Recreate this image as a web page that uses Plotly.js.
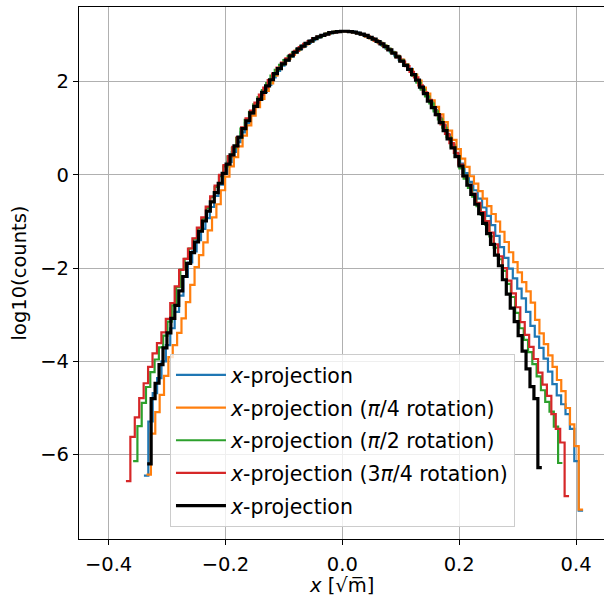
<!DOCTYPE html>
<html>
<head>
<meta charset="utf-8">
<script src="https://cdn.plot.ly/plotly-3.0.1.min.js"></script>
<style>html,body{margin:0;padding:0;background:#fff;}#chart{width:604px;height:598px;}</style>
</head>
<body>
<div id="chart"></div>
<script>
// Histogram bin ranges (100 bins each)
const nBins = 100;
const seriesNames = [
  "<i>x</i>-projection",
  "<i>x</i>-projection (<i>π</i>/4 rotation)",
  "<i>x</i>-projection (<i>π</i>/2 rotation)",
  "<i>x</i>-projection (3<i>π</i>/4 rotation)",
  "<i>x</i>-projection"
];
const xTitle = "<i>x</i> [√m̅]";
const yTitle = "log10(counts)";
const binLo = [-0.3395, -0.335, -0.358, -0.3703, -0.3339];
const binHi = [0.412, 0.412, 0.3766, 0.388, 0.3414];

// log10(counts) per bin
const blueVals = [
-6.45,-5.29,-4.68,-4.36,-4.00,-3.65,-3.29,-2.94,-2.59,-2.19,
-1.88,-1.64,-1.40,-1.16,-0.93,-0.69,-0.45,-0.21,0.02,0.28,
0.49,0.70,0.91,1.11,1.29,1.46,1.62,1.78,1.93,2.09,
2.23,2.34,2.45,2.54,2.63,2.70,2.77,2.83,2.89,2.94,
2.98,3.02,3.04,3.06,3.07,3.08,3.08,3.07,3.05,3.02,
2.99,2.95,2.90,2.85,2.78,2.71,2.64,2.56,2.47,2.37,
2.28,2.16,2.00,1.85,1.72,1.56,1.39,1.22,1.06,0.86,
0.65,0.45,0.24,0.04,-0.15,-0.33,-0.51,-0.70,-0.88,-1.08,
-1.31,-1.55,-1.78,-2.01,-2.22,-2.44,-2.65,-2.94,-3.24,-3.47,
-3.71,-3.94,-4.22,-4.49,-4.73,-4.92,-5.13,-5.45,-6.14,-7.20];

const orangeVals = [
-6.43,-5.55,-5.09,-4.72,-4.31,-3.91,-3.65,-3.39,-3.08,-2.73,
-2.36,-1.98,-1.72,-1.45,-1.19,-0.91,-0.63,-0.33,-0.04,0.18,
0.38,0.61,0.84,1.06,1.27,1.45,1.63,1.80,1.96,2.13,
2.27,2.39,2.49,2.58,2.66,2.74,2.80,2.86,2.92,2.96,
3.00,3.03,3.05,3.07,3.08,3.08,3.07,3.06,3.04,3.01,
2.97,2.93,2.88,2.83,2.77,2.70,2.63,2.55,2.47,2.37,
2.27,2.15,2.02,1.87,1.74,1.60,1.46,1.30,1.13,0.95,
0.75,0.55,0.35,0.17,-0.03,-0.19,-0.35,-0.51,-0.67,-0.84,
-1.00,-1.22,-1.44,-1.66,-1.87,-2.09,-2.30,-2.50,-2.74,-3.11,
-3.40,-3.63,-3.87,-4.12,-4.40,-4.64,-5.00,-5.35,-5.82,-7.18];

const greenVals = [
-6.14,-5.39,-4.89,-4.55,-4.23,-3.96,-3.70,-3.45,-3.15,-2.80,
-2.41,-2.03,-1.80,-1.58,-1.37,-1.15,-0.94,-0.71,-0.48,-0.26,
-0.03,0.18,0.39,0.58,0.79,0.99,1.18,1.35,1.51,1.67,
1.82,1.97,2.13,2.25,2.36,2.46,2.54,2.62,2.69,2.76,
2.82,2.87,2.92,2.96,3.00,3.03,3.05,3.07,3.08,3.08,
3.07,3.06,3.04,3.01,2.97,2.93,2.89,2.83,2.77,2.70,
2.62,2.54,2.45,2.36,2.25,2.13,1.98,1.83,1.68,1.53,
1.36,1.19,1.01,0.81,0.60,0.39,0.14,-0.08,-0.28,-0.47,
-0.67,-0.86,-1.07,-1.32,-1.56,-1.81,-2.06,-2.34,-2.62,-2.96,
-3.29,-3.54,-3.80,-4.06,-4.32,-4.62,-4.87,-5.08,-5.40,-6.18];

const redVals = [
-6.57,-5.62,-5.20,-4.79,-4.47,-4.12,-3.83,-3.61,-3.38,-3.09,
-2.75,-2.39,-2.04,-1.80,-1.58,-1.36,-1.13,-0.91,-0.68,-0.46,
-0.23,0.00,0.21,0.40,0.60,0.81,1.02,1.21,1.38,1.55,
1.72,1.87,2.03,2.17,2.30,2.41,2.50,2.58,2.66,2.74,
2.81,2.87,2.92,2.96,2.99,3.02,3.05,3.06,3.08,3.08,
3.07,3.06,3.04,3.01,2.97,2.93,2.88,2.82,2.76,2.68,
2.61,2.52,2.43,2.33,2.21,2.09,1.92,1.77,1.61,1.44,
1.28,1.08,0.88,0.68,0.47,0.22,-0.03,-0.22,-0.41,-0.60,
-0.80,-0.99,-1.24,-1.49,-1.75,-2.00,-2.27,-2.54,-2.84,-3.16,
-3.43,-3.69,-3.95,-4.24,-4.50,-4.74,-5.13,-5.45,-5.74,-6.89];

const blackVals = [
-6.20,-4.80,-4.47,-4.07,-3.71,-3.39,-3.08,-2.80,-2.49,-2.18,
-1.90,-1.67,-1.44,-1.21,-0.99,-0.78,-0.58,-0.38,-0.18,0.03,
0.23,0.43,0.62,0.81,0.99,1.16,1.33,1.47,1.62,1.77,
1.91,2.04,2.17,2.28,2.38,2.46,2.55,2.63,2.70,2.76,
2.82,2.87,2.92,2.96,2.99,3.02,3.05,3.06,3.07,3.08,
3.08,3.07,3.06,3.04,3.02,2.99,2.95,2.91,2.86,2.81,
2.75,2.68,2.61,2.53,2.44,2.35,2.26,2.15,2.03,1.88,
1.74,1.58,1.44,1.29,1.12,0.95,0.77,0.58,0.39,0.19,
-0.02,-0.22,-0.42,-0.63,-0.83,-1.04,-1.26,-1.49,-1.72,-1.95,
-2.25,-2.56,-2.86,-3.15,-3.45,-3.78,-4.16,-4.54,-4.80,-6.28];

const allVals = [blueVals, orangeVals, greenVals, redVals, blackVals];
const colors = ["#1f77b4", "#ff7f0e", "#2ca02c", "#d62728", "#000000"];
const widths = [2.2, 2.2, 2.2, 2.2, 3.2];

const traces = allVals.map((vals, k) => {
  const w = (binHi[k] - binLo[k]) / nBins;
  const xs = [], ys = [];
  for (let i = 0; i < vals.length; i++) { xs.push(binLo[k] + i * w); ys.push(vals[i]); }
  xs.push(binHi[k]); ys.push(vals[vals.length - 1]);
  return {
    x: xs, y: ys, type: "scatter", mode: "lines",
    line: {shape: "hv", color: colors[k], width: widths[k]},
    name: seriesNames[k], legendgroup: "g" + k
  };
});

const font = {family: "DejaVu Sans, sans-serif", size: 19.5, color: "#000"};
const legFont = {family: "DejaVu Sans, sans-serif", size: 20.5, color: "#000"};
const layout = {
  width: 604, height: 598,
  margin: {l: 79, r: 0, t: 7, b: 59},
  paper_bgcolor: "#fff", plot_bgcolor: "#fff",
  font: font,
  showlegend: true,
  legend: {
    x: 0.1733, y: 0.3475, xanchor: "left", yanchor: "top",
    bgcolor: "rgba(255,255,255,0.8)", bordercolor: "#cccccc", borderwidth: 1,
    font: legFont, tracegroupgap: 3, traceorder: "grouped", itemwidth: 50
  },
  annotations: [{
    text: xTitle, xref: "paper", yref: "paper", x: 0.5, y: -0.0865,
    xanchor: "center", yanchor: "middle", showarrow: false, font: font
  }],
  xaxis: {
    range: [-0.4506, 0.4478], tickvals: [-0.4, -0.2, 0.0, 0.2, 0.4], tickformat: ".1f",
    showgrid: true, gridcolor: "#b0b0b0", gridwidth: 1, zeroline: false,
    showline: true, linecolor: "#000", linewidth: 1.2, mirror: true,
    ticks: "outside", ticklen: 5, tickcolor: "#000", tickfont: font,
    ticklabelstandoff: 2
  },
  yaxis: {
    range: [-7.81, 3.60], tickvals: [-6, -4, -2, 0, 2],
    showgrid: true, gridcolor: "#b0b0b0", gridwidth: 1, zeroline: false,
    showline: true, linecolor: "#000", linewidth: 1.2, mirror: false,
    ticks: "outside", ticklen: 5, tickcolor: "#000", tickfont: font,
    title: {text: yTitle, font: font, standoff: 8}
  }
};
Plotly.newPlot("chart", traces, layout, {displayModeBar: false, staticPlot: true});
</script>
</body>
</html>
